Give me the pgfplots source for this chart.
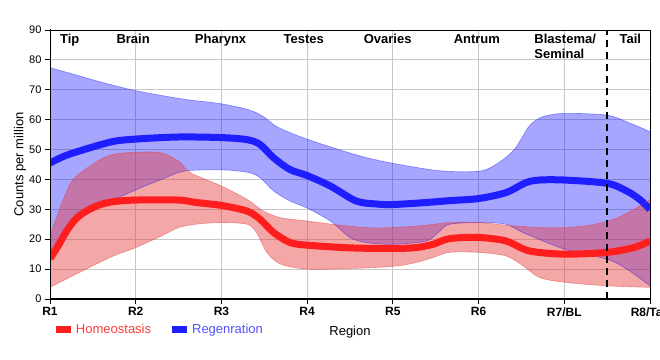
\documentclass[border=0pt]{standalone}
\usepackage{pgfplots}
\pgfplotsset{compat=1.18}
\usepgfplotslibrary{fillbetween}
\usepackage{fontspec}
\setmainfont{Liberation Sans}
\definecolor{bandblue}{RGB}{0,0,255}
\definecolor{bandred}{RGB}{230,60,60}
\definecolor{linered}{RGB}{255,30,30}
\definecolor{lineblue}{RGB}{30,30,255}
\definecolor{txtred}{RGB}{255,60,60}
\definecolor{txtblue}{RGB}{80,80,255}
\begin{document}
\begin{tikzpicture}
\begin{axis}[
  scale only axis, width=600bp, height=269bp,
  xmin=1, xmax=8, ymin=0, ymax=90,
  xtick={1,...,8}, xticklabels={R1,R2,R3,R4,R5,R6,R7/BL,R8/Tail},
  ytick={0,10,...,90},
  grid=major, grid style={draw=black!22, line width=0.8bp},
  axis line style={line width=0.8bp},
  tick align=outside, major tick length=5bp, tick style={black, line width=0.8bp},
  xtick pos=bottom, ytick pos=left,
  /pgf/number format/assume math mode=true,
  yticklabel style={font=\fontsize{11bp}{13bp}\selectfont},
  xticklabel style={font=\fontsize{12bp}{14bp}\selectfont\bfseries},
  xlabel={Region}, ylabel={Counts per million},
  label style={font=\fontsize{13bp}{15bp}\selectfont},
  xlabel style={at={(axis description cs:0.5,-0.134)}, anchor=base},
  ylabel style={at={(axis description cs:-0.05,0.5)}, anchor=center},
  legend image code/.code={\draw[#1] (0bp,0bp) -- (15bp,0bp);},
  legend style={at={(axis description cs:0.003,-0.115)}, anchor=west,
    legend columns=2, draw=none, fill=none, inner sep=0pt,
    font=\fontsize{13bp}{15bp}\selectfont,
    /tikz/every even column/.append style={column sep=15bp}},
  legend cell align=left,
]
% ---------- Regeneration band ----------
\addplot[name path=bu, smooth, draw=bandblue, draw opacity=0.4, line width=0.6bp, forget plot] coordinates {
(1,77.4) (1.3,75) (1.58,72.7) (2,69.7) (2.55,66.9) (3,65.3) (3.33,63.2) (3.49,61) (3.65,57.6) (3.92,54.3) (4.27,50.9) (4.65,47.6) (5,45.4) (5.55,42.9) (6.02,42.8) (6.25,45.9) (6.41,49.8) (6.49,53.2) (6.6,58.2) (6.75,61) (7,62.1) (7.5,61.5) (7.77,58.8) (8,56)};
\addplot[name path=bl, smooth, draw=bandblue, draw opacity=0.4, line width=0.6bp, forget plot] coordinates {
(1,15) (1.1,20) (1.33,26.5) (1.7,32.5) (2,36.5) (2.3,40) (2.57,42.8) (3,43.2) (3.3,42.4) (3.45,40.6) (3.61,36.1) (3.8,32.8) (4,30.4) (4.27,26.1) (4.5,20.6) (4.69,18.9) (5,18.3) (5.39,19.4) (5.55,22.8) (5.66,25) (6,25.6) (6.32,25) (6.52,22.2) (7,16.7) (7.5,13.3) (7.73,10) (8,4.4)};
\addplot[fill=bandblue, fill opacity=0.35, draw=none, forget plot] fill between[of=bu and bl];
\addplot[smooth, lineblue, line width=7bp, forget plot] coordinates {
(1,45.5) (1.15,47.6) (1.33,49.4) (1.72,52.6) (2,53.5) (2.5,54.2) (3,54.0) (3.3,53.3) (3.45,51.7) (3.61,47.2) (3.8,43.3) (4,41.3) (4.27,37.8) (4.57,32.8) (4.8,31.8) (5,31.6) (5.4,32.3) (5.66,32.9) (6,33.6) (6.32,35.6) (6.55,38.9) (6.71,39.8) (7,39.8) (7.5,38.7) (7.73,36.1) (7.88,33.3) (8,30)};
% ---------- Homeostasis band ----------
\addplot[name path=ru, smooth, draw=bandred, draw opacity=0.5, line width=0.6bp, forget plot] coordinates {
(1,20) (1.04,24.4) (1.155,33.3) (1.27,40) (1.525,45.6) (1.72,48.3) (2,49.1) (2.3,48.9) (2.5,46.1) (2.64,42.2) (3,37.8) (3.3,33.3) (3.49,29.4) (3.69,27.2) (4,26.1) (4.3,25) (4.69,23.9) (5,23.9) (5.39,24.7) (5.66,25.6) (6,25.6) (6.32,24.7) (6.71,23.9) (7,23.9) (7.3,24.7) (7.58,26.7) (7.81,30) (8,33.3)};
\addplot[name path=rl, smooth, draw=bandred, draw opacity=0.5, line width=0.6bp, forget plot] coordinates {
(1,3.9) (1.27,7.8) (1.7,13.9) (2,17.2) (2.3,21.1) (2.5,23.9) (2.7,25) (3,25.6) (3.3,25) (3.41,22.2) (3.53,15.6) (3.69,11.7) (4,10) (4.5,10.2) (5,10.9) (5.27,12.2) (5.47,13.9) (5.66,15.6) (6,15.6) (6.32,14.4) (6.52,11.1) (6.71,7.2) (7,5.6) (7.5,4.4) (8,3.9)};
\addplot[fill=bandred, fill opacity=0.45, draw=none, forget plot] fill between[of=ru and rl];
\addplot[smooth, linered, line width=7bp, forget plot] coordinates {
(1,13.5) (1.1,18) (1.2,23) (1.32,27.3) (1.5,30.6) (1.7,32.4) (2,33.1) (2.5,33.1) (2.7,32.3) (3,31.3) (3.3,29.4) (3.45,26.7) (3.61,22.2) (3.8,18.9) (4,18) (4.5,17.1) (5,16.9) (5.27,17.2) (5.47,18.3) (5.66,20.2) (6,20.6) (6.32,19.4) (6.59,16.1) (7,15) (7.5,15.6) (7.81,17.2) (8,19.4)};
% ---------- divider ----------
\addplot[black, line width=2.7bp, dash pattern=on 7bp off 5bp, forget plot] coordinates {(7.5,0) (7.5,90)};
% ---------- legend ----------
\addlegendimage{linered, line width=7bp}
\addlegendentry{\textcolor{txtred}{Homeostasis}}
\addlegendimage{lineblue, line width=7bp}
\addlegendentry{\textcolor{txtblue}{Regenration}}
% ---------- region labels ----------
\begin{scope}[every node/.style={font=\fontsize{13bp}{15bp}\selectfont\bfseries, inner sep=0pt}]
\node[anchor=base] at (axis cs:1.23,85.4) {Tip};
\node[anchor=base] at (axis cs:1.97,85.4) {Brain};
\node[anchor=base] at (axis cs:2.99,85.4) {Pharynx};
\node[anchor=base] at (axis cs:3.96,85.4) {Testes};
\node[anchor=base] at (axis cs:4.94,85.4) {Ovaries};
\node[anchor=base] at (axis cs:5.98,85.4) {Antrum};
\node[anchor=base west] at (axis cs:6.65,85.4) {Blastema/};
\node[anchor=base west] at (axis cs:6.65,80.6) {Seminal};
\node[anchor=base] at (axis cs:7.77,85.4) {Tail};
\end{scope}
\node[font=\fontsize{13bp}{15bp}\selectfont\bfseries, inner sep=0pt] at (axis description cs:0.4667,1.0743) {MligTC455\_07897 (Mlig455\_058308)};
\draw[line width=2.5bp, line cap=rect] (rel axis cs:0,1) -- (rel axis cs:0,0) -- (rel axis cs:1,0);
\coordinate (SW) at (rel axis cs:0,0);
\coordinate (NE) at (rel axis cs:1,1);
\end{axis}
\pgfresetboundingbox
\useasboundingbox ([shift={(-50bp,-61bp)}]SW) rectangle ([shift={(10bp,30bp)}]NE);
\end{tikzpicture}
\end{document}
